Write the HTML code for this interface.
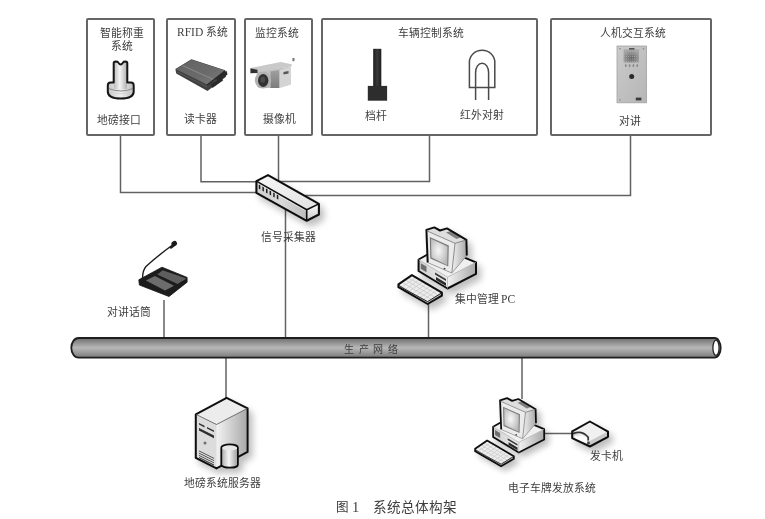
<!DOCTYPE html>
<html lang="zh-CN">
<head>
<meta charset="utf-8">
<style>
html,body{margin:0;padding:0;background:#fff;}
body{width:765px;height:519px;position:relative;overflow:hidden;font-family:"Liberation Serif",serif;color:#3e3e3e;}
svg{position:absolute;left:0;top:0;}
.t{position:absolute;white-space:nowrap;font-size:10.8px;line-height:1;will-change:transform;}
</style>
</head>
<body>
<svg width="765" height="519" viewBox="0 0 765 519">
<defs>
  <linearGradient id="pipe" x1="0" y1="0" x2="0" y2="1">
    <stop offset="0" stop-color="#6e6e6e"/>
    <stop offset="0.5" stop-color="#b8b8b8"/>
    <stop offset="1" stop-color="#7a7a7a"/>
  </linearGradient>
</defs>
<!-- boxes -->
<g fill="none" stroke="#666" stroke-width="2">
  <rect x="87" y="19" width="67" height="116" rx="1"/>
  <rect x="167" y="19" width="68" height="116" rx="1"/>
  <rect x="245" y="19" width="67" height="116" rx="1"/>
  <rect x="322" y="19" width="215" height="116" rx="1"/>
  <rect x="551" y="19" width="160" height="116" rx="1"/>
</g>
<!-- connectors -->
<g fill="none" stroke="#626262" stroke-width="1.5">
  <path d="M120.5 136V192.5H258"/>
  <path d="M201 136V181.8H258"/>
  <path d="M278.5 136V182"/>
  <path d="M429.5 136V181.4H278"/>
  <path d="M630.5 136V195.5H305"/>
  <path d="M285.5 208V338"/>
  <path d="M164 300V338"/>
  <path d="M428.5 302V338"/>
  <path d="M226 358V399"/>
  <path d="M522 358V399"/>
  <path d="M540 433.5H574"/>
</g>
<!-- pipe -->
<g>
  <path d="M78.5 338H714.5A6.2 9.8 0 0 1 714.5 357.6H78.5A7.2 9.8 0 0 1 78.5 338Z" fill="url(#pipe)" stroke="#1e1e1e" stroke-width="1.8"/>
  <ellipse cx="716" cy="347.8" rx="3.1" ry="7.6" fill="#fff" stroke="#222" stroke-width="1.3"/>
</g>
<!-- switch -->
<g filter="url(#shadow)">
<g stroke-linejoin="round">
  <polygon points="256.4,181.1 268,175.1 318.9,203.9 306.7,209.7" fill="url(#gSwTop)"/>
  <polygon points="256.4,181.1 306.7,209.7 306.7,220.8 256.4,192.8" fill="url(#gSwFront)"/>
  <polygon points="306.7,209.7 318.9,203.9 318.9,214.5 306.7,220.8" fill="url(#gSwEnd)"/>
  <path d="M258 183.5L305.5 210.5" stroke="#f4f4f4" stroke-width="0.8"/>
</g>
<g fill="#1e1e1e"><polygon points="258.8,184.5 260.3,185.35 260.3,189.60 258.8,188.75"/><polygon points="262.4,186.5 263.9,187.35 263.9,191.60 262.4,190.75"/><polygon points="266.0,188.5 267.5,189.35 267.5,193.60 266.0,192.75"/><polygon points="269.6,190.5 271.1,191.35 271.1,195.60 269.6,194.75"/><polygon points="273.2,192.5 274.7,193.35 274.7,197.60 273.2,196.75"/><polygon points="276.8,194.5 278.3,195.35 278.3,199.60 276.8,198.75"/></g>
<g fill="none" stroke="#111" stroke-width="2.1" stroke-linejoin="round">
  <polygon points="256.4,181.1 268,175.1 318.9,203.9 318.9,214.5 306.7,220.8 256.4,192.8"/>
  <path d="M256.4 181.1L306.7 209.7L318.9 203.9M306.7 209.7V220.8" stroke-width="1.6"/>
</g>
</g>

<!-- ICONS -->
<defs>
  <linearGradient id="gStem" x1="0" y1="0" x2="1" y2="0">
    <stop offset="0" stop-color="#bdbdbd"/><stop offset="0.45" stop-color="#f4f4f4"/><stop offset="1" stop-color="#b0b0b0"/>
  </linearGradient>
  <linearGradient id="gBase1" x1="0" y1="0" x2="1" y2="0">
    <stop offset="0" stop-color="#c4c4c4"/><stop offset="0.5" stop-color="#efefef"/><stop offset="1" stop-color="#bcbcbc"/>
  </linearGradient>
  <linearGradient id="gRfidTop" x1="0" y1="0" x2="1" y2="1">
    <stop offset="0" stop-color="#626262"/><stop offset="0.6" stop-color="#6c6c6c"/><stop offset="1" stop-color="#7c7c7c"/>
  </linearGradient>
  <linearGradient id="gCam" x1="0" y1="0" x2="0" y2="1">
    <stop offset="0" stop-color="#dedede"/><stop offset="1" stop-color="#a9a9a9"/>
  </linearGradient>
  <linearGradient id="gPole" x1="0" y1="0" x2="1" y2="0">
    <stop offset="0" stop-color="#1c1c1c"/><stop offset="0.5" stop-color="#3a3a3a"/><stop offset="1" stop-color="#1c1c1c"/>
  </linearGradient>
  <linearGradient id="gSide" x1="0" y1="0" x2="1" y2="0">
    <stop offset="0" stop-color="#f2f2f2"/><stop offset="1" stop-color="#a8a8a8"/>
  </linearGradient>
  <linearGradient id="gFront" x1="0" y1="0" x2="1" y2="0">
    <stop offset="0" stop-color="#d0d0d0"/><stop offset="1" stop-color="#ececec"/>
  </linearGradient>
  <linearGradient id="gCyl" x1="0" y1="0" x2="1" y2="0">
    <stop offset="0" stop-color="#a8a8a8"/><stop offset="0.45" stop-color="#f6f6f6"/><stop offset="1" stop-color="#9a9a9a"/>
  </linearGradient>
  <linearGradient id="gSwTop" x1="0" y1="0" x2="1" y2="1">
    <stop offset="0" stop-color="#f6f6f6"/><stop offset="1" stop-color="#e2e2e2"/>
  </linearGradient>
  <linearGradient id="gSwFront" x1="0" y1="0" x2="1" y2="0">
    <stop offset="0" stop-color="#cfcfcf"/><stop offset="0.5" stop-color="#d8d8d8"/><stop offset="1" stop-color="#bdbdbd"/>
  </linearGradient>
  <linearGradient id="gSwEnd" x1="0" y1="0" x2="0" y2="1">
    <stop offset="0" stop-color="#fafafa"/><stop offset="1" stop-color="#cacaca"/>
  </linearGradient>
  <linearGradient id="gCamMid" x1="0" y1="0" x2="0" y2="1">
    <stop offset="0" stop-color="#a0a0a0"/><stop offset="1" stop-color="#7c7c7c"/>
  </linearGradient>
  <linearGradient id="gPanel" x1="0" y1="0" x2="1" y2="1">
    <stop offset="0" stop-color="#cacaca"/><stop offset="1" stop-color="#b6b6b6"/>
  </linearGradient>
  <filter id="soft" x="-10%" y="-10%" width="120%" height="120%"><feGaussianBlur stdDeviation="0.35"/></filter>
  <filter id="shadow" x="-40%" y="-40%" width="180%" height="180%"><feGaussianBlur in="SourceAlpha" stdDeviation="3.5"/><feOffset dx="4" dy="4.5"/><feComponentTransfer><feFuncA type="linear" slope="0.26"/></feComponentTransfer><feMerge><feMergeNode/><feMergeNode in="SourceGraphic"/></feMerge></filter>
  <radialGradient id="gGrille" cx="0.5" cy="0.65" r="0.6"><stop offset="0" stop-color="#666"/><stop offset="1" stop-color="#a4a4a4"/></radialGradient>
  <radialGradient id="gScreen" cx="0.45" cy="0.45" r="0.6">
    <stop offset="0" stop-color="#f8f8f8"/><stop offset="1" stop-color="#b8b8b8"/>
  </radialGradient>
</defs>

<!-- weighing interface -->
<path d="M113.7 82.6V63.2Q113.7 61.4 115.6 61.4L117.6 61.7Q119.4 64.4 120.6 64.4Q121.9 64.4 123.7 61.7L125.5 61.4Q127.3 61.4 127.3 63.2V82.6H131Q133.7 82.6 133.7 85.6V91.5C133.7 97.2 127.5 98.6 120.8 98.6C114 98.6 107.8 97.2 107.8 91.5V85.6Q107.8 82.6 110.6 82.6Z" fill="url(#gBase1)"/>
<rect x="114" y="63" width="13" height="26" fill="url(#gStem)"/>
<path d="M108.8 88.6Q120.8 93.4 132.8 88.6" fill="none" stroke="#8a8a8a" stroke-width="1"/>
<path d="M108.8 91.5Q120.8 96 132.8 91.5" fill="none" stroke="#d0d0d0" stroke-width="0.8"/>
<path d="M113.7 82.6V63.2Q113.7 61.4 115.6 61.4L117.6 61.7Q119.4 64.4 120.6 64.4Q121.9 64.4 123.7 61.7L125.5 61.4Q127.3 61.4 127.3 63.2V82.6H131Q133.7 82.6 133.7 85.6V91.5C133.7 97.2 127.5 98.6 120.8 98.6C114 98.6 107.8 97.2 107.8 91.5V85.6Q107.8 82.6 110.6 82.6Z" fill="none" stroke="#151515" stroke-width="2" stroke-linejoin="round"/>

<!-- RFID reader -->
<g filter="url(#soft)">
  <polygon points="175.4,69 191.4,59.2 225.2,70.2 226,76.8 207.5,91 176.2,73.5" fill="#404040"/>
  <polygon points="176,69.2 191.6,59.7 224.8,70.4 207,84.6" fill="url(#gRfidTop)"/>
  <path d="M182.5 65.5L214.5 80" stroke="#8a8a8a" stroke-width="1"/>
  <path d="M177 71.8L207.2 87" stroke="#5a5a5a" stroke-width="0.9"/>
  <path d="M207.2 85L225 71" stroke="#2a2a2a" stroke-width="1.3"/>
  <polygon points="216,78 226.5,70.8 227.5,74.5 218,81.5" fill="#2a2a2a"/>
  <polygon points="210.5,84.5 222,77.5 223,80.5 212.5,88" fill="#2c2c2c"/>
</g>

<!-- camera -->
<g filter="url(#soft)">
  <polygon points="256.5,71.5 290.6,66.4 290.6,84.5 278,88 258.4,88" fill="#c0c0c0"/>
  <polygon points="270.5,71.6 279.5,70 279.5,88 270.5,88" fill="url(#gCamMid)"/>
  <polygon points="279.5,70 290.6,66.4 290.6,84.5 279.5,88" fill="#d4d4d4"/>
  <polygon points="250.4,68.1 280.6,61.9 291.7,64.3 291.7,66.3 259,72" fill="#c9c9c9"/>
  <polygon points="250.4,68.3 257.5,69.8 257.5,73 250.4,73.2" fill="#303030"/>
  <ellipse cx="263" cy="80.2" rx="8.2" ry="8.4" fill="#b2b2b2"/>
  <ellipse cx="263.2" cy="80.5" rx="5.2" ry="6.5" fill="#333"/>
  <ellipse cx="262.8" cy="79.8" rx="2.3" ry="3" fill="#4e4e4e"/>
  <polygon points="283.5,72 288.5,71 288.5,73.5 283.5,74.4" fill="#555"/>
  <rect x="292.4" y="58" width="2.1" height="3.2" fill="#7a7a7a"/>
</g>

<!-- barrier -->
<rect x="373.2" y="48.8" width="8.1" height="38" fill="url(#gPole)"/>
<rect x="367.8" y="85.9" width="19.3" height="14.8" fill="#2d2d2d"/>

<!-- IR -->
<g fill="none" stroke="#4a4a4a" stroke-width="1.5">
  <path d="M469.4 87.6V62.3A12.7 12 0 0 1 494.8 62.3V87.6Z"/>
  <path d="M475.6 100V72.5A6.5 9.3 0 0 1 488.6 72.5V100"/>
</g>

<!-- intercom panel -->
<g filter="url(#soft)">
<rect x="617" y="46" width="29.6" height="56.8" fill="url(#gPanel)" stroke="#a2a2a2" stroke-width="0.8"/>
<rect x="623.6" y="49.5" width="15.4" height="13" fill="url(#gGrille)"/>
<g stroke="#b4b4b4" stroke-width="0.6" stroke-dasharray="1 1"><path d="M624 51.5H638.6M624 54H638.6M624 56.5H638.6M624 59H638.6M624 61.5H638.6"/></g>
<rect x="629" y="48" width="5.5" height="1.6" fill="#555"/>
<g fill="#8a8a8a"><ellipse cx="625.8" cy="65.6" rx="0.9" ry="1.6"/><ellipse cx="629.6" cy="65.6" rx="0.9" ry="1.6"/><ellipse cx="633.4" cy="65.6" rx="0.9" ry="1.6"/><ellipse cx="637.2" cy="65.6" rx="0.9" ry="1.6"/></g>
<circle cx="631.7" cy="76.4" r="2.5" fill="#2a2a2a"/>
<rect x="635.8" y="97.6" width="5.6" height="2.8" fill="#3a3a3a"/>
<circle cx="620" cy="48.8" r="0.8" fill="#888"/><circle cx="643.5" cy="48.8" r="0.8" fill="#888"/>
<circle cx="620" cy="100" r="0.8" fill="#888"/>
</g>

<!-- microphone -->
<g stroke-linejoin="round">
  <path d="M171.5 245.8Q155 258 146 266.5Q142.4 270.5 142.6 279" fill="none" stroke="#1a1a1a" stroke-width="1.4"/>
  <ellipse cx="174.2" cy="243.6" rx="2.9" ry="2.5" transform="rotate(-30 174.2 243.6)" fill="#1a1a1a"/><path d="M169.5 248.2L172.5 243.5L175.5 245.6L171.4 248.8Z" fill="#1a1a1a"/>
  <polygon points="138.8,279.8 162,267.2 187.1,277.4 187.1,282.2 169,296.5 139.4,285" fill="#1c1c1c" stroke="#111" stroke-width="0.8"/>
  <polygon points="145.9,280.4 154.9,276 174,285.7 165,290.5" fill="#6c6c6c"/>
  <polygon points="157.3,274.4 162.6,270.2 186.5,278.6 177.6,284" fill="#5e5e5e"/>
</g>

<!-- PC (central management) -->
<g id="pc" stroke-linejoin="round" filter="url(#shadow)">
  <!-- keyboard -->
  <polygon points="398.4,284.3 411.9,275.1 441.9,292.7 441.9,295.6 427.6,304 398.4,287.2" fill="#bdbdbd"/>
  <polygon points="398.8,284.6 411.9,275.6 441.5,292.8 427.6,301.4" fill="#ededed"/>
  <g stroke="#c4c4c4" stroke-width="0.7" fill="none"><path d="M402.1 282.4L430.9 299.1M405.4 280.1L434.2 296.9M408.6 277.9L437.4 294.6M402.4 286.7L415.5 277.7M406.0 288.8L419.1 279.8M409.6 290.9L422.7 281.9M413.2 293.0L426.3 284.0M416.8 295.1L429.9 286.1M420.4 297.2L433.5 288.2M424.0 299.3L437.1 290.3"/></g>
  <polygon points="398.4,284.3 411.9,275.1 441.9,292.7 441.9,295.6 427.6,304 398.4,287.2" fill="none" stroke="#111" stroke-width="2"/>
  <path d="M398.6 285Q399 286.5 427.6 301.6L441.5 293" fill="none" stroke="#222" stroke-width="1"/>
  <!-- base -->
  <polygon points="418.6,259.5 447.5,277.2 476,262.3 476,273.9 447.5,288.5 418.6,271" fill="#e2e2e2"/>
  <polygon points="418.6,259.5 447.5,277.2 447.5,288.5 418.6,271" fill="url(#gFront)"/>
  <polygon points="447.5,277.2 476,262.3 476,273.9 447.5,288.5" fill="url(#gSide)"/>
  <polygon points="418.6,259.5 440,247.5 476,262.3 447.5,277.2" fill="#f0f0f0"/>
  <polygon points="420.8,263.2 426.5,266.6 426.5,272.2 420.8,268.8" fill="#6e6e6e"/>
  <polygon points="435,272.5 446,279 446,281 435,274.5" fill="#3a3a3a"/>
  <polygon points="436,277 446,283 446,286 436,280" fill="#2a2a2a"/>
  <polygon points="418.6,259.5 440,247.5 476,262.3 476,273.9 447.5,288.5 418.6,271" fill="none" stroke="#111" stroke-width="2"/>
  <path d="M418.6 259.5L447.5 277.2L476 262.3M447.5 277.2V288.5" fill="none" stroke="#aaa" stroke-width="0.7"/>
  <!-- monitor -->
  <polygon points="426.4,229.9 434.3,227.4 440,230.5 447,228.4 466.4,239.8 466.8,255.6 451.8,273 427.7,262.6" fill="#e6e6e6"/>
  <polygon points="427,230.5 434.3,227.8 440,230.8 447,228.8 466,240 455,243.3" fill="#dedede"/>
  <polygon points="446,232.5 451.5,230.8 462,237 456.5,239" fill="#7e7e7e"/>
  <polygon points="455,243.3 466.4,239.8 466.8,255.6 451.8,273" fill="url(#gSide)"/>
  <polygon points="426.8,230.8 455,243.3 451.8,273 427.7,262.6" fill="#ebebeb"/>
  <polygon points="429.8,237 448.8,245.6 448.3,266.6 430.3,258.6" fill="#7a7a7a"/>
  <polygon points="431,238.8 447.6,246.4 447.2,265.2 431.4,257.6" fill="url(#gScreen)"/>
  <circle cx="444.5" cy="268.8" r="1" fill="#444"/>
  <path d="M427.7 262.6L426.4 229.9L434.3 227.4L440 230.5L447 228.4L466.4 239.8L466.8 255.6" fill="none" stroke="#111" stroke-width="2" stroke-linejoin="round"/>
  <path d="M426.8 230.8L455 243.3L466.2 240M455 243.3L451.8 273" fill="none" stroke="#666" stroke-width="0.7"/>
  <path d="M427.7 262.6L451.8 273L466.8 255.6" fill="none" stroke="#8a8a8a" stroke-width="0.8"/>
</g>

<!-- PC (e-plate system), scaled copy -->
<use href="#pc" transform="translate(493.1 426.7) scale(0.89) translate(-418.6 -259.5)"/>

<!-- card dispenser -->
<g stroke-linejoin="round" filter="url(#shadow)">
  <polygon points="572.2,431.3 589.9,421.5 608,431.6 608,436.8 589.9,446.5 572.2,438.2" fill="#e4e4e4"/>
  <polygon points="572.2,431.3 589.9,421.5 608,431.6 589.5,441.3" fill="#f0f0f0"/>
  <polygon points="589.5,441.3 608,431.6 608,436.8 589.9,446.5" fill="#c9c9c9"/>
  <polygon points="589.5,441.3 572.2,431.3 572.2,438.2 589.9,446.5" fill="#d8d8d8"/>
  <path d="M574.5 436Q582 434.5 587 438.5V443.5Q581 441.5 575.5 438.8Z" fill="#fff"/>
  <path d="M573 433.6Q582 429.8 588.2 437.2V440.5" fill="none" stroke="#333" stroke-width="1.7"/>
  <rect x="587.2" y="441.6" width="2.6" height="2.8" fill="#444"/>
  <polygon points="572.2,431.3 589.9,421.5 608,431.6 608,436.8 589.9,446.5 572.2,438.2" fill="none" stroke="#111" stroke-width="2"/>
</g>

<!-- server -->
<g stroke-linejoin="round" filter="url(#shadow)">
  <polygon points="195.8,414.3 226.6,397.8 247.6,408.3 216.5,424.5" fill="#ececec"/>
  <polygon points="195.8,414.3 216.5,424.5 216.5,468.4 195.8,457.9" fill="#dcdcdc"/>
  <polygon points="216.5,424.5 247.6,408.3 247.6,451.9 216.5,468.4" fill="url(#gSide)"/>
  <g fill="#2e2e2e">
    <polygon points="199,423 204.5,425.8 204.5,427.4 199,424.6"/>
    <polygon points="207,427 214,430.5 214,432.1 207,428.6"/>
    <polygon points="199,428 214,435.5 214,438.2 199,430.5"/>
    <polygon points="199,450.5 214,458 214,458.8 199,451.3"/>
    <polygon points="199,452.7 214,460.2 214,461 199,453.5"/>
    <polygon points="199,454.9 214,462.4 214,463.2 199,455.7"/>
    <polygon points="199,457.1 214,464.6 214,465.4 199,457.9"/>
  </g>
  <circle cx="205" cy="443" r="1.5" fill="#707070"/>
  <polygon points="195.8,414.3 226.6,397.8 247.6,408.3 247.6,451.9 216.5,468.4 195.8,457.9" fill="none" stroke="#111" stroke-width="2"/>
  <path d="M196 414.4L216.5 424.5L247.4 408.4" fill="none" stroke="#555" stroke-width="0.8"/>
  <!-- cylinder -->
  <path d="M221.3 447.4V464.7A8.3 3 0 0 0 237.9 464.7V447.4Z" fill="url(#gCyl)"/>
  <ellipse cx="229.6" cy="447.4" rx="8.3" ry="3" fill="#e8e8e8"/>
  <path d="M221.3 447.4V464.7A8.3 3 0 0 0 237.9 464.7V447.4A8.3 3 0 0 0 221.3 447.4Z" fill="none" stroke="#111" stroke-width="1.8"/>
</g>
</svg>
<!--TEXTS-->
<div class="t" style="left:99.8px;top:28.3px;">智能称重</div>
<div class="t" style="left:111.0px;top:40.9px;">系统</div>
<div class="t" style="left:177.1px;top:27.0px;"><span style='font-size:11.5px;margin-right:3px'>RFID</span>系统</div>
<div class="t" style="left:255.3px;top:27.9px;">监控系统</div>
<div class="t" style="left:397.5px;top:27.5px;">车辆控制系统</div>
<div class="t" style="left:600.1px;top:27.5px;">人机交互系统</div>
<div class="t" style="left:96.8px;top:114.5px;">地磅接口</div>
<div class="t" style="left:183.8px;top:114.2px;">读卡器</div>
<div class="t" style="left:262.6px;top:113.5px;">摄像机</div>
<div class="t" style="left:365.4px;top:110.7px;">档杆</div>
<div class="t" style="left:460.3px;top:110.2px;">红外对射</div>
<div class="t" style="left:619.1px;top:115.5px;">对讲</div>
<div class="t" style="left:260.6px;top:232.0px;">信号采集器</div>
<div class="t" style="left:107.3px;top:307.2px;">对讲话筒</div>
<div class="t" style="left:454.9px;top:293.9px;">集中管理<span style='font-size:11.5px;margin-left:2px'>PC</span></div>
<div class="t" style="left:343.9px;top:345.4px;font-size:10.0px;letter-spacing:4.7px;">生产网络</div>
<div class="t" style="left:183.8px;top:477.6px;">地磅系统服务器</div>
<div class="t" style="left:589.6px;top:451.4px;">发卡机</div>
<div class="t" style="left:508.1px;top:483.1px;">电子车牌发放系统</div>
<div class="t" style="left:336.0px;top:501.1px;font-size:12.6px;">图</div>
<div class="t" style="left:351.8px;top:500.2px;font-size:14.5px;">1</div>
<div class="t" style="left:372.9px;top:501.1px;font-size:13.6px;">系统总体构架</div>
<!--/TEXTS-->
</body>
</html>
